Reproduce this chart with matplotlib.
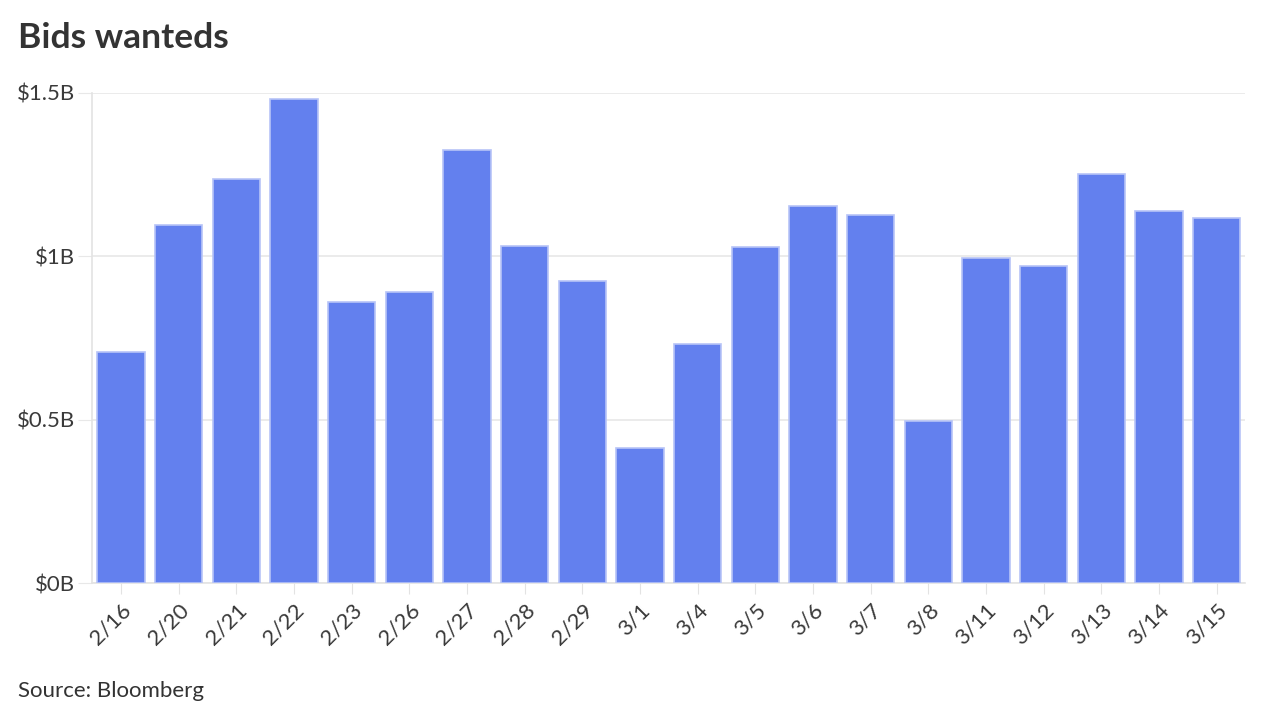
import numpy as np
import matplotlib
matplotlib.use('Agg')
from matplotlib import pyplot as plt

plt.rcParams['font.family'] = ['Lato', 'DejaVu Sans']

dates = ['2/16', '2/20', '2/21', '2/22', '2/23', '2/26', '2/27', '2/28', '2/29', '3/1',
         '3/4', '3/5', '3/6', '3/7', '3/8', '3/11', '3/12', '3/13', '3/14', '3/15']
values = [0.707, 1.096, 1.237, 1.481, 0.860, 0.891, 1.325, 1.032, 0.924, 0.413,
          0.732, 1.029, 1.154, 1.126, 0.496, 0.995, 0.970, 1.252, 1.139, 1.117]
yticks = [0, 0.5, 1.0, 1.5]
ylabels = ['$0B', '$0.5B', '$1B', '$1.5B']

fig = plt.figure(figsize=(12.8, 7.2), dpi=100)
ax = fig.add_axes([0.072, 0.19, 0.901, 0.681])

x = np.arange(len(dates))
ax.bar(x, values, width=0.82, color='#6380ee', edgecolor='#b7c4f7', linewidth=1.2, zorder=3)

ax.set_xlim(-0.5, len(dates) - 0.5)
ax.set_ylim(0, 1.5)
ax.set_yticks(yticks)
ax.set_yticklabels(ylabels)
ax.set_xticks(x)
ax.set_xticklabels(dates, rotation=45, ha='right', va='top', rotation_mode='anchor')

ax.grid(axis='y', color='#e8e8e8', linewidth=1.2, zorder=0)
for s in ['top', 'right']:
    ax.spines[s].set_visible(False)
for s in ['left', 'bottom']:
    ax.spines[s].set_color('#e3e3e3')
    ax.spines[s].set_linewidth(1.2)

ax.tick_params(axis='y', length=10, color='#e8e8e8', labelsize=16, labelcolor='#3a3a3a', pad=2)
ax.tick_params(axis='x', length=8, color='#e3e3e3', labelsize=16, labelcolor='#3a3a3a', pad=4)

fig.text(0.014, 0.947, 'Bids wanteds', fontsize=25.5, fontweight='bold', color='#333333', va='center')
fig.text(0.014, 0.04, 'Source: Bloomberg', fontsize=16, color='#333333', va='center')

fig.savefig('out.png', dpi=100)
